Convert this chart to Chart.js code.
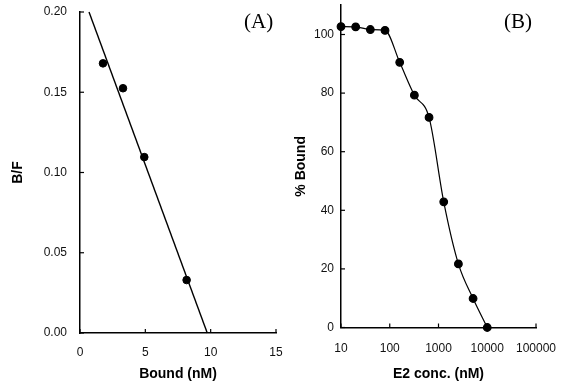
<!DOCTYPE html>
<html>
<head>
<meta charset="utf-8">
<script src="https://cdn.jsdelivr.net/npm/chart.js@4/dist/chart.umd.min.js"></script>
<style>
  html, body { margin: 0; padding: 0; background: #fff; }
  #wrap { position: relative; width: 565px; height: 388px; overflow: hidden; }
  canvas { position: absolute; top: 0; }
  .lbl { position: absolute; font-family: "Liberation Serif", "Times New Roman", serif; font-size: 21px; color: #000; line-height: 1; }
</style>
</head>
<body>
<div id="wrap">
  <canvas id="cA" width="290" height="388" style="left:0px"></canvas>
  <canvas id="cB" width="280" height="388" style="left:285px"></canvas>
  <div class="lbl" style="left:244px; top:11px;">(A)</div>
  <div class="lbl" style="left:504px; top:11px;">(B)</div>
</div>
<script>
// Panel A: Scatchard plot
const boundNM = [1.76, 3.29, 4.92, 8.16];
const bOverF = [0.168, 0.1525, 0.1096, 0.033];
const fitX = [0.69, 9.74];
const fitY = [0.20, 0.00];
const ticksA_x = [0, 5, 10, 15];
const ticksA_y = [0, 0.05, 0.10, 0.15, 0.20];

// Panel B: competition curve
const e2Conc = [10, 20, 40, 80, 160, 320, 640, 1280, 2560, 5120, 10000];
const pctBound = [102.7, 102.6, 101.7, 101.4, 90.5, 79.3, 71.7, 42.9, 21.7, 9.9, 0];
const ticksB_x = [10, 100, 1000, 10000, 100000];
const ticksB_y = [0, 20, 40, 60, 80, 100];

const tickFont = { family: "'Liberation Sans', Arial, sans-serif", size: 12 };
const titleFont = { family: "'Liberation Sans', Arial, sans-serif", size: 14, weight: 'bold' };

const inwardTicks = {
  id: 'inwardTicks',
  afterDatasetsDraw(chart) {
    const ctx = chart.ctx, ca = chart.chartArea;
    ctx.save();
    ctx.strokeStyle = '#000';
    ctx.lineWidth = 1.2;
    const xs = chart.scales.x, ys = chart.scales.y;
    xs.ticks.forEach(t => {
      const px = xs.getPixelForValue(t.value);
      ctx.beginPath(); ctx.moveTo(px, ca.bottom); ctx.lineTo(px, ca.bottom - 4); ctx.stroke();
    });
    ys.ticks.forEach(t => {
      const py = ys.getPixelForValue(t.value);
      ctx.beginPath(); ctx.moveTo(ca.left, py); ctx.lineTo(ca.left + 4, py); ctx.stroke();
    });
    ctx.restore();
  }
};

function axisCommon() {
  return {
    grid: { display: true, drawOnChartArea: false, drawTicks: false },
    border: { display: true, color: '#000', width: 1.5 }
  };
}
function fitX_(h) { return s => { s.height = h; s.paddingLeft = 0; s.paddingRight = 0; }; }
function fitY_(w) { return s => { s.width = w; s.paddingTop = 0; s.paddingBottom = 0; }; }

new Chart(document.getElementById('cA'), {
  type: 'scatter',
  data: {
    datasets: [
      {
        data: fitX.map((x, i) => ({ x, y: fitY[i] })),
        showLine: true, borderColor: '#000', borderWidth: 1.4,
        pointRadius: 0, clip: false
      },
      {
        data: boundNM.map((x, i) => ({ x, y: bOverF[i] })),
        backgroundColor: '#000', borderColor: '#000',
        pointRadius: 3.8, showLine: false, clip: false
      }
    ]
  },
  options: {
    responsive: false, animation: false, devicePixelRatio: 1,
    layout: { padding: { left: 0, top: 12, right: 14, bottom: 0 } },
    plugins: { legend: { display: false }, tooltip: { enabled: false } },
    scales: {
      x: Object.assign(axisCommon(), {
        type: 'linear', min: 0, max: 15,
        afterBuildTicks: s => { s.ticks = ticksA_x.map(v => ({ value: v })); },
        afterFit: fitX_(55),
        ticks: { font: tickFont, color: '#111', padding: 12, maxRotation: 0, callback: v => String(v) },
        title: { display: true, text: 'Bound (nM)', font: titleFont, color: '#000', padding: { top: 0, bottom: 5 } }
      }),
      y: Object.assign(axisCommon(), {
        type: 'linear', min: 0, max: 0.2,
        afterBuildTicks: s => { s.ticks = ticksA_y.map(v => ({ value: v })); },
        afterFit: fitY_(80),
        ticks: { font: tickFont, color: '#111', padding: 13, callback: v => Number(v).toFixed(2) },
        title: { display: true, text: 'B/F', font: titleFont, color: '#000', padding: { top: 10, bottom: 0 } }
      })
    }
  },
  plugins: [inwardTicks]
});

new Chart(document.getElementById('cB'), {
  type: 'scatter',
  data: {
    datasets: [
      {
        data: e2Conc.map((x, i) => ({ x, y: pctBound[i] })),
        showLine: true, borderColor: '#000', borderWidth: 1.2,
        backgroundColor: '#000', pointRadius: 3.8,
        cubicInterpolationMode: 'monotone', clip: false
      }
    ]
  },
  options: {
    responsive: false, animation: false, devicePixelRatio: 1,
    layout: { padding: { left: 0, top: 5, right: 29, bottom: 0 } },
    plugins: { legend: { display: false }, tooltip: { enabled: false } },
    scales: {
      x: Object.assign(axisCommon(), {
        type: 'logarithmic', min: 10, max: 100000,
        afterBuildTicks: s => { s.ticks = ticksB_x.map(v => ({ value: v })); },
        afterFit: fitX_(60.5),
        ticks: { font: tickFont, color: '#111', padding: 14, maxRotation: 0, autoSkip: false, callback: v => String(v) },
        title: { display: true, text: 'E2 conc. (nM)', font: titleFont, color: '#000', padding: { top: 0, bottom: 5 } }
      }),
      y: Object.assign(axisCommon(), {
        type: 'linear', min: 0, max: 110,
        afterBuildTicks: s => { s.ticks = ticksB_y.map(v => ({ value: v })); },
        afterFit: fitY_(56),
        ticks: { font: tickFont, color: '#111', padding: 7, callback: v => String(v) },
        title: { display: true, text: '% Bound', font: titleFont, color: '#000', padding: { top: 8, bottom: 0 } }
      })
    }
  },
  plugins: [inwardTicks]
});
</script>
</body>
</html>
